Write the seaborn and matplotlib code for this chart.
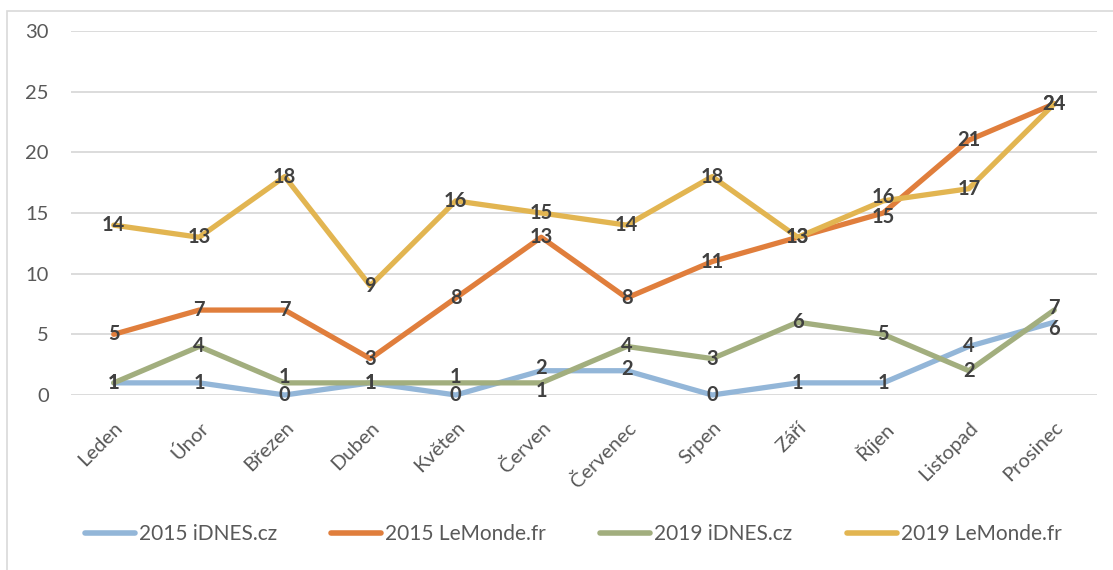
import matplotlib
matplotlib.use("Agg")
import matplotlib.pyplot as plt
import seaborn as sns
import pandas as pd
from matplotlib.patches import Rectangle
from matplotlib.lines import Line2D
import matplotlib.transforms as mtransforms

months = ["Leden", "Únor", "Březen", "Duben", "Květen", "Červen",
          "Červenec", "Srpen", "Září", "Říjen", "Listopad", "Prosinec"]
idnes_2015 = [1, 1, 0, 1, 0, 2, 2, 0, 1, 1, 4, 6]
lemonde_2015 = [5, 7, 7, 3, 8, 13, 8, 11, 13, 15, 21, 24]
idnes_2019 = [1, 4, 1, 1, 1, 1, 4, 3, 6, 5, 2, 7]
lemonde_2019 = [14, 13, 18, 9, 16, 15, 14, 18, 13, 16, 17, 24]
series_names = ["2015 iDNES.cz", "2015 LeMonde.fr", "2019 iDNES.cz", "2019 LeMonde.fr"]
series_values = [idnes_2015, lemonde_2015, idnes_2019, lemonde_2019]
colors = ["#93B6D8", "#E07E3C", "#A2AE7E", "#E2B551"]
y_ticks = [0, 5, 10, 15, 20, 25, 30]

rows = []
for name, vals in zip(series_names, series_values):
    for i, (m, v) in enumerate(zip(months, vals)):
        rows.append({"idx": i, "month": m, "value": v, "series": name})
df = pd.DataFrame(rows)

sns.set_theme(style="white")
plt.rcParams["font.family"] = ["Lato", "DejaVu Sans"]

W, H = 1113, 570
fig = plt.figure(figsize=(W / 100, H / 100), dpi=100)
ax = fig.add_axes([71 / W, 1 - 395 / H, (1097 - 71) / W, (395 - 31) / H])

# outer chart frame
fig.patches.append(Rectangle((7 / W, -0.05), 1.1, 1 - 11 / H + 0.05,
                             transform=fig.transFigure, fill=False,
                             edgecolor="#D9D9D9", linewidth=1.2, zorder=0))

ax.set_ylim(0, 30)
ax.set_xlim(-0.5, 11.5)
ax.set_yticks(y_ticks)
ax.yaxis.grid(True, color="#D9D9D9", linewidth=1.3)
ax.set_axisbelow(True)
for s in ax.spines.values():
    s.set_visible(False)

sns.lineplot(data=df, x="idx", y="value", hue="series", hue_order=series_names,
             palette=colors, linewidth=3.8, ax=ax, legend=False,
             solid_capstyle="round")
for ln in ax.get_lines():
    ln.set_clip_on(False)

# data labels (nudges in pixels for overlapping labels)
nudges = {
    (2, 2): 6, (2, 4): 6, (2, 5): -8, (0, 5): 3,
    (3, 9): 4, (1, 9): -4, (2, 11): 2, (0, 11): -7, (0, 6): 2,
}
for si, vals in enumerate(series_values):
    for i, v in enumerate(vals):
        dy = nudges.get((si, i), 0) * 0.72
        off = mtransforms.offset_copy(ax.transData, fig=fig, x=0, y=dy, units="points")
        ax.text(i, v, str(v), transform=off, ha="center", va="center",
                fontsize=14.5, fontweight="bold", color="#404040", zorder=5)

ax.set_xticks(range(len(months)))
ax.set_xticklabels(months, rotation=45, ha="right", rotation_mode="anchor",
                   fontsize=14.5, color="#595959")
ax.tick_params(axis="x", length=0, pad=17)
ax.tick_params(axis="y", length=0, pad=16, labelsize=14.5, labelcolor="#595959")
ax.set_xlabel("")
ax.set_ylabel("")

handles = [Line2D([0], [0], color=c, linewidth=4, solid_capstyle="round") for c in colors]
fig.legend(handles, series_names, loc="center", bbox_to_anchor=(0.515, 1 - 534 / H),
           ncol=4, frameon=False, fontsize=15, handlelength=2.4, handletextpad=0.2,
           columnspacing=2.6, labelcolor="#595959")

fig.savefig("out.png", dpi=100)
